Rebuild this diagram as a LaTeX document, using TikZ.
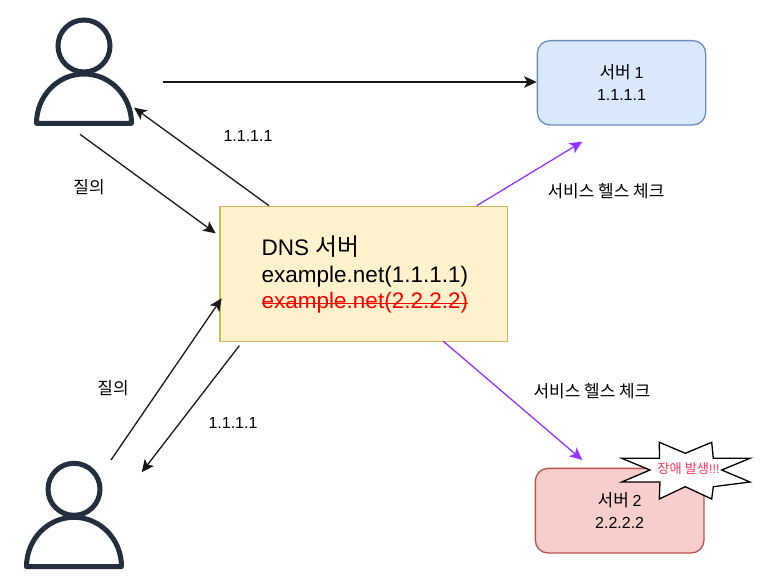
\documentclass[tikz,border=0pt]{standalone}
\usepackage{fontspec}
\setmainfont{Liberation Sans}
\newfontfamily\kr[Scale=1.06]{Noto Sans CJK KR}
\usetikzlibrary{arrows.meta, positioning, calc}

\definecolor{inkblue}{HTML}{232F3E}
\definecolor{bluefill}{HTML}{DAE8FC}
\definecolor{blueline}{HTML}{6C8EBF}
\definecolor{redfill}{HTML}{F8CECC}
\definecolor{redline}{HTML}{B85450}
\definecolor{yellowfill}{HTML}{FFF2CC}
\definecolor{yellowline}{HTML}{D6B656}
\definecolor{checkpurple}{HTML}{9933FF}
\definecolor{alarmpink}{HTML}{FF3355}

\tikzset{
    txt/.style={font=\fontsize{16}{22}\selectfont, align=center, inner sep=0pt},
    big/.style={font=\fontsize{22.5}{26.5}\selectfont, inner sep=0pt, anchor=base west},
    server/.style={draw, rounded corners=12.6pt, line width=1.3pt, inner sep=0pt, anchor=north west, txt},
    call/.style={-{Stealth[length=12.5pt,width=11.5pt,inset=3pt]}, line width=1.3pt, black!90},
    check/.style={call, checkpurple},
    person/.pic={
        \draw[inkblue, line width=5pt] (0,0) circle (26pt);
        \draw[inkblue, line width=5pt, line join=round] (-47.5,77.3)
            arc[start angle=180, end angle=0, x radius=47.5pt, y radius=49.3pt] -- cycle;
    }
}

\begin{document}
\begin{tikzpicture}[x=1pt, y=-1pt]
\useasboundingbox (0,0) rectangle (780,588);

% Clients
\pic at (84,46) {person};
\pic at (74,489.3) {person};

% Servers
\node[draw=yellowline, fill=yellowfill, line width=1.3pt, inner sep=0pt, anchor=north west, minimum width=287.4pt, minimum height=135.3pt] (dns) at (219.3,205.7) {};
\node[server, fill=bluefill, draw=blueline, minimum width=168.3pt, minimum height=84.3pt] (srv1) at (536.7,40) {\kr 서버 \normalfont 1\\1.1.1.1};
\node[server, fill=redfill, draw=redline, minimum width=168.6pt, minimum height=84.6pt] (srv2) at (534.7,467.7) {\kr 서버 \normalfont 2\\2.2.2.2};

% DNS text
\node[big] (title) at (261.5,256) {DNS {\kr 서버}};
\node[big] (live) at (261.5,282.5) {example.net(1.1.1.1)};
\node[big, text=red] (dead) at (261.5,309) {example.net(2.2.2.2)};
\draw[red, line width=1.3pt] (dead.west) -- (dead.east);

% Free ends of the arrows
\coordinate (topfrom) at (163.3,82);
\coordinate (topback) at (134,107.7);
\coordinate (topask) at (80,134.3);
\coordinate (dnsin1) at (215.7,233.3);
\coordinate (dnsout1) at (269,205.7);
\coordinate (botask) at (111,460);
\coordinate (dnsin2) at (221.7,298.3);
\coordinate (dnsout2) at (239.3,345.7);
\coordinate (botback) at (141.7,472.3);
\coordinate (checkout1) at (476.7,205.7);
\coordinate (checkin1) at (582.3,141.7);
\coordinate (checkout2) at (443,341);
\coordinate (checkin2) at (582.3,460);

% Requests and answers
\draw[call] (topfrom) -- (topfrom -| srv1.west);
\draw[call] (dnsout1) -- (topback);
\draw[call] (topask) -- (dnsin1);
\draw[call] (botask) -- (dnsin2);
\draw[call] (dnsout2) -- (botback);

% Health checks
\draw[check] (checkout1) -- (checkin1);
\draw[check] (checkout2) -- (checkin2);

% Labels
\node[txt] (ask1) at (89,187) {\kr 질의};
\node[txt] (ans1) at (248,136) {1.1.1.1};
\node[txt] (ask2) at (113,388) {\kr 질의};
\node[txt] (ans2) at (233,423) {1.1.1.1};
\node[txt] (hc1) at (606,191) {\kr 서비스 헬스 체크};
\node[txt] (hc2) at (592,391) {\kr 서비스 헬스 체크};

% Failure burst
\draw[fill=white, line width=1.3pt, line join=miter] (621.7,458.3) -- (659.5,458.3) -- (659.3,442.3) -- (685.3,453.3)
    -- (711.7,442.3) -- (713.3,458.3) -- (750,458.3) -- (721.7,470) -- (750,482) -- (713.3,486.7)
    -- (711.7,499) -- (685.3,486.7) -- (659.3,499) -- (660,482) -- (621.7,482) -- (650,470) -- cycle;
\node[txt, font=\fontsize{12.5}{14}\selectfont, text=alarmpink] (alarm) at (688.5,469) {\kr 장애 발생\normalfont !!!};
\end{tikzpicture}
\end{document}
